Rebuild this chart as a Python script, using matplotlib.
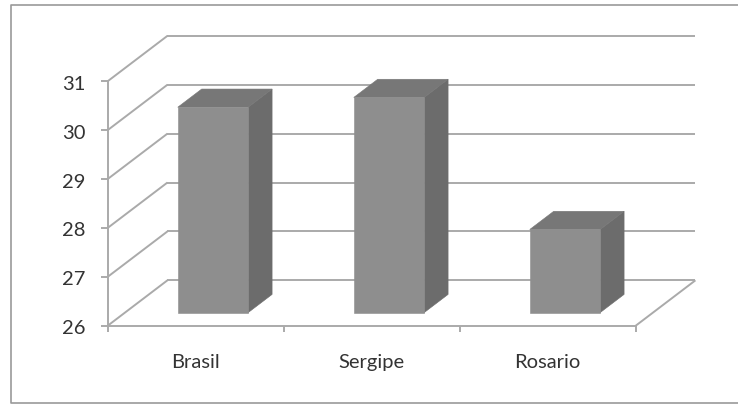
"""3-D style column chart drawn with an oblique projection on a plain axes."""

import matplotlib
matplotlib.use("Agg")
import matplotlib.pyplot as plt
from matplotlib.lines import Line2D
from matplotlib.patches import Polygon

categories = ["Brasil", "Sergipe", "Rosario"]
values = [30.2, 30.4, 27.7]
y_ticks = [26, 27, 28, 29, 30, 31]

W, H = 738, 405
AXIS_L, AXIS_R, AXIS_TOP, AXIS_BOT = 107.6, 635.6, 81.3, 325.8
DEPTH_X, DEPTH_Y = 0.34, 0.93  # floor depth, in data units
BAR_WIDTH = 0.40
BAR_Z = (0.29, 0.69)

GRID = "#aaaaaa"
FRONT, TOP, SIDE = "#8e8e8e", "#777777", "#6c6c6c"
TEXT = "#333333"

plt.rcParams["font.family"] = ["Lato", "DejaVu Sans"]


def proj(x, y, z=0.0):
    return x + z * DEPTH_X, y + z * DEPTH_Y


def main() -> None:
    fig = plt.figure(figsize=(W / 100, H / 100), dpi=100, facecolor="white")
    ax = fig.add_axes([AXIS_L / W, 1 - AXIS_BOT / H,
                       (AXIS_R - AXIS_L) / W, (AXIS_BOT - AXIS_TOP) / H])
    ax.set_xlim(0, len(categories))
    ax.set_ylim(y_ticks[0], y_ticks[-1])
    ax.axis("off")

    # outer chart frame, open on the right where it runs off the canvas
    fx = [W + 5, 10.5, 10.5, W + 5]
    fy = [5, 5, 403, 403]
    fig.add_artist(Line2D([x / W for x in fx], [1 - y / H for y in fy],
                          color="#999999", linewidth=1.2, transform=fig.transFigure))

    n = len(categories)
    line = dict(color=GRID, linewidth=1.4, clip_on=False, solid_capstyle="butt")

    # side wall and back wall gridlines
    for v in y_ticks:
        xb, yb = proj(0, v, 1)
        xe, _ = proj(n, v, 1)
        ax.plot([0, xb], [v, yb], **line)
        ax.plot([xb, xe], [yb, yb], **line)

    # floor edges, value axis and category axis
    xr, yr = proj(n, y_ticks[0], 1)
    ax.plot([n, xr], [y_ticks[0], yr], **line)
    ax.plot([0, n], [y_ticks[0], y_ticks[0]], **line)
    ax.plot([0, 0], [y_ticks[0], y_ticks[-1]], **line)

    trans = ax.get_yaxis_transform()
    for v in y_ticks:
        ax.add_line(Line2D([-7 / (AXIS_R - AXIS_L), 0], [v, v], transform=trans, **line))
        ax.annotate(str(v), (0, v), xytext=(-22, -3), textcoords="offset pixels",
                    ha="right", va="center", fontsize=14.5, color=TEXT)
    for i in range(n + 1):
        ax.add_line(Line2D([i, i], [y_ticks[0], y_ticks[0] - 0.13], **line))

    # columns, from their category position on the floor
    z0, z1 = BAR_Z
    base = y_ticks[0]
    for i, (name, val) in enumerate(zip(categories, values)):
        left = i + 0.5 - BAR_WIDTH / 2
        right = left + BAR_WIDTH
        front = [proj(left, base, z0), proj(right, base, z0),
                 proj(right, val, z0), proj(left, val, z0)]
        side = [proj(right, base, z0), proj(right, base, z1),
                proj(right, val, z1), proj(right, val, z0)]
        top = [proj(left, val, z0), proj(right, val, z0),
               proj(right, val, z1), proj(left, val, z1)]
        for pts, col in ((side, SIDE), (top, TOP), (front, FRONT)):
            ax.add_patch(Polygon(pts, closed=True, facecolor=col, edgecolor=col,
                                 linewidth=0.4, clip_on=False, zorder=3))
        ax.annotate(name, (i + 0.5, base), xytext=(0, -37), textcoords="offset pixels",
                    ha="center", va="center", fontsize=14.5, color=TEXT)

    fig.savefig("out.png", dpi=100)


if __name__ == "__main__":
    main()
